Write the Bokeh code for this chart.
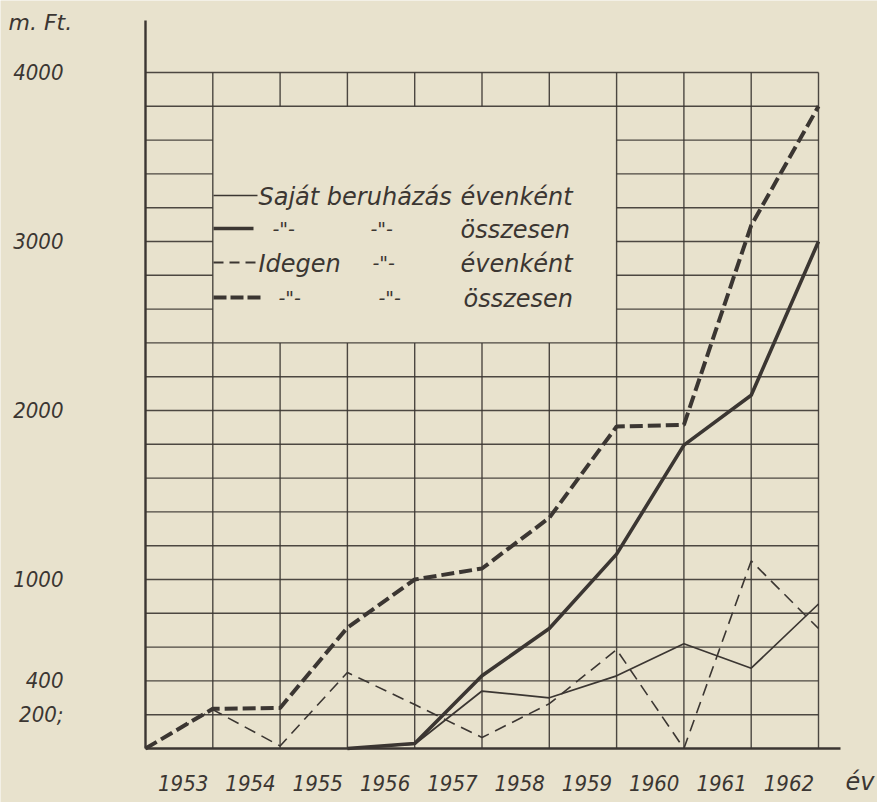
from bokeh.plotting import figure
from bokeh.models import Range1d, FixedTicker, Label
from bokeh.embed import file_html
from bokeh.resources import INLINE

# ---------------- data (million Ft) ----------------
years = [1953, 1954, 1955, 1956, 1957, 1958, 1959, 1960, 1961, 1962]
own_annual = [None, None, 0, 25, 340, 300, 430, 620, 475, 855]
own_total = [None, None, 0, 30, 430, 710, 1150, 1795, 2090, 3000]
foreign_annual = [230, 15, 450, 260, 65, 265, 585, 0, 1110, 710]
foreign_total = [235, 240, 715, 1000, 1065, 1365, 1905, 1915, 3095, 3800]
ytick_values = [200, 400, 1000, 2000, 3000, 4000]
ytick_labels = ["200;", "400", "1000", "2000", "3000", "4000"]

PAPER = "#e8e2cd"
INK = "#3b3632"
FONT = "DejaVu Sans"
NUM_FONT = "DejaVu Sans Condensed"

W, H = 877, 802
# page-pixel geometry of the chart area
X0_PX, PX_PER_YEAR = 145, 67.3
Y0_PX, PX_PER_UNIT = 748, 0.169

x_start = (0 - X0_PX) / PX_PER_YEAR
x_end = (W - X0_PX) / PX_PER_YEAR
y_start = (Y0_PX - H) / PX_PER_UNIT
y_end = Y0_PX / PX_PER_UNIT

p = figure(width=W, height=H, output_backend="svg", toolbar_location=None, title=None,
           x_range=Range1d(x_start, x_end), y_range=Range1d(y_start, y_end),
           min_border=0, min_border_left=0, min_border_right=0,
           min_border_top=0, min_border_bottom=0)
p.background_fill_color = PAPER
p.border_fill_color = PAPER
p.outline_line_color = None
p.xgrid.visible = False
p.ygrid.visible = False

# ---------------- grid (segments, legend area left blank) ----------------
n_years = len(years)
legend_x0, legend_x1 = 1, 7
legend_y0, legend_y1 = 2400, 3800
hx0, hy0, hx1, hy1 = [], [], [], []
for k in range(1, 21):
    yv = 200 * k
    if legend_y0 < yv < legend_y1:
        hx0 += [0, legend_x1]; hx1 += [legend_x0, n_years]; hy0 += [yv, yv]; hy1 += [yv, yv]
    else:
        hx0.append(0); hx1.append(n_years); hy0.append(yv); hy1.append(yv)
for i in range(1, n_years + 1):
    if legend_x0 < i < legend_x1:
        hx0 += [i, i]; hx1 += [i, i]; hy0 += [0, legend_y1]; hy1 += [legend_y0, 4000]
    else:
        hx0.append(i); hx1.append(i); hy0.append(0); hy1.append(4000)
p.segment(hx0, hy0, hx1, hy1, line_color=INK, line_width=1.4, line_alpha=0.9)

# ---------------- series ----------------
def series(vals, with_origin):
    xs, ys = ([0], [0]) if with_origin else ([], [])
    for i, v in enumerate(vals):
        if v is not None:
            xs.append(i + 1); ys.append(v)
    return xs, ys

xs, ys = series(foreign_annual, True)
p.line(xs, ys, line_color=INK, line_width=1.6, line_dash="12 7")
xs, ys = series(own_annual, False)
p.line(xs, ys, line_color=INK, line_width=1.7)
xs, ys = series(foreign_total, True)
p.line(xs, ys, line_color=INK, line_width=4, line_dash="13 5")
xs, ys = series(own_total, False)
p.line(xs, ys, line_color=INK, line_width=3.6)

# ---------------- axes (fixed at the data origin) ----------------
p.xaxis.fixed_location = 0
p.yaxis.fixed_location = 0
p.xaxis.bounds = (0, (840 - X0_PX) / PX_PER_YEAR)
p.yaxis.bounds = (0, (Y0_PX - 20) / PX_PER_UNIT)
p.xaxis.ticker = FixedTicker(ticks=[i + 0.56 for i in range(n_years)])
p.xaxis.major_label_overrides = {i + 0.56: str(y) for i, y in enumerate(years)}
p.yaxis.ticker = FixedTicker(ticks=ytick_values)
p.yaxis.major_label_overrides = {v: s for v, s in zip(ytick_values, ytick_labels)}
for ax in (p.xaxis, p.yaxis):
    ax.axis_line_color = INK
    ax.axis_line_width = 2.4
    ax.major_tick_line_color = None
    ax.minor_tick_line_color = None
    ax.major_tick_out = 0
    ax.major_tick_in = 0
    ax.major_label_text_font = NUM_FONT
    ax.major_label_text_font_style = "italic"
    ax.major_label_text_color = INK
p.xaxis.major_label_text_font_size = "22px"
p.xaxis.major_label_standoff = 26
p.yaxis.major_label_text_font_size = "22px"
p.yaxis.major_label_standoff = 82

# ---------------- helpers for layout in page pixels ----------------
def dx(px):
    return (px - X0_PX) / PX_PER_YEAR

def dy(py):
    return (Y0_PX - py) / PX_PER_UNIT

def label(txt, px, py, size="24px", align="left"):
    p.add_layout(Label(x=dx(px), y=dy(py), text=txt, text_font=FONT, text_font_style="italic",
                       text_font_size=size, text_color=INK, text_align=align,
                       text_baseline="middle"))

label("m. Ft.", 8, 22, "22px")
label("év", 845, 781, "24px")

# ---------------- legend ----------------
rows = [195, 228, 262, 297]
p.segment([dx(213)], [dy(rows[0])], [dx(257)], [dy(rows[0])], line_color=INK, line_width=1.7)
p.segment([dx(213)], [dy(rows[1])], [dx(253)], [dy(rows[1])], line_color=INK, line_width=3.6)
p.segment([dx(213)], [dy(rows[2])], [dx(255)], [dy(rows[2])], line_color=INK, line_width=1.8, line_dash="10 6")
p.segment([dx(213)], [dy(rows[3])], [dx(260)], [dy(rows[3])], line_color=INK, line_width=4, line_dash="13 4")

ditto = '-"-'
label("Saját beruházás", 258, rows[0] + 1)
label("évenként", 460, rows[0] + 1)
label(ditto, 272, rows[1], "19px")
label(ditto, 370, rows[1], "19px")
label("összesen", 460, rows[1] + 1)
label("Idegen", 258, rows[2] + 1)
label(ditto, 372, rows[2], "19px")
label("évenként", 460, rows[2] + 1)
label(ditto, 278, rows[3], "19px")
label(ditto, 378, rows[3], "19px")
label("összesen", 463, rows[3] + 1)

open("out.html", "w").write(file_html(p, INLINE))
